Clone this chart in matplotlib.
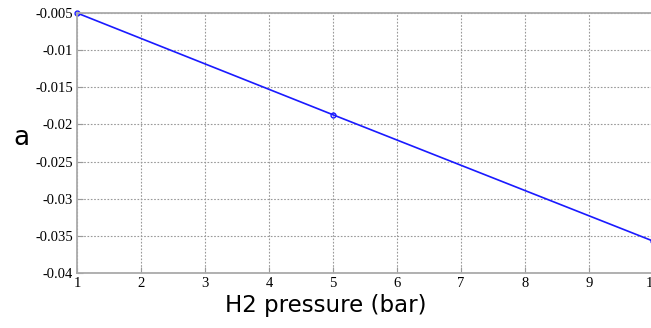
import matplotlib.pyplot as plt
import numpy as np

pressure = [1, 5, 10]
a_values = [-0.005, -0.0187, -0.0357]
x_ticks = [1, 2, 3, 4, 5, 6, 7, 8, 9, 10]
y_ticks = [-0.04, -0.035, -0.03, -0.025, -0.02, -0.015, -0.01, -0.005]
y_tick_labels = ['-0.04', '-0.035', '-0.03', '-0.025', '-0.02', '-0.015', '-0.01', '-0.005']

W, H = 651, 328
fig = plt.figure(figsize=(W / 100, H / 100), dpi=100)
ax = fig.add_axes([77 / W, 1 - 273 / H, (653 - 77) / W, 260 / H])

ax.plot(pressure, a_values, color='#1a1aff', lw=1.2, marker='o', ms=3.5,
        mfc='none', mec='#1a1aff', mew=1, clip_on=False)

ax.set_xlim(1, 10)
ax.set_ylim(-0.04, -0.005)
ax.set_xticks(x_ticks)
ax.set_xticklabels([str(t) for t in x_ticks])
ax.set_yticks(y_ticks)
ax.set_yticklabels(y_tick_labels)
ax.grid(True, color='#999999', linestyle=(0, (1.5, 1.5)), lw=0.8)
ax.tick_params(direction='in', length=4, color='#999999', pad=3)
for lab in ax.get_xticklabels() + ax.get_yticklabels():
    lab.set_fontfamily('Liberation Serif')
    lab.set_fontsize(10.5)
for side in ['left', 'top', 'bottom', 'right']:
    ax.spines[side].set_color('#aaaaaa')
    ax.spines[side].set_linewidth(1.3)

ax.set_xlabel('H2 pressure (bar)', fontsize=16.5, family='DejaVu Sans')
ax.xaxis.set_label_coords((326 - 77) / (653 - 77), -(294 - 273) / 260)
ax.set_ylabel('a', rotation=0, fontsize=19, family='DejaVu Sans', va='center', ha='center')
ax.yaxis.set_label_coords(-(77 - 21) / (653 - 77), 1 - (138 - 13) / 260)

fig.savefig('out.png', dpi=100)
